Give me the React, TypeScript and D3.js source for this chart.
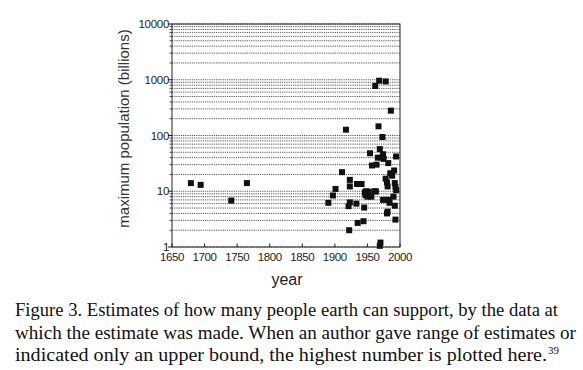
import React from 'react'
import * as d3 from 'd3'

// estimates: year the estimate was made, max population in billions
const years = [
  1679, 1694, 1741, 1765, 1890, 1897, 1901, 1911, 1917, 1921, 1922, 1923, 1923, 1923,
  1933, 1934, 1935, 1941, 1944, 1945, 1946, 1947, 1948, 1950, 1952, 1954, 1956, 1957,
  1961, 1962, 1963, 1964, 1966, 1967, 1968, 1969, 1969, 1970, 1972, 1973, 1974, 1974,
  1975, 1978, 1978, 1980, 1980, 1981, 1981, 1982, 1983, 1984, 1985, 1986, 1988, 1990,
  1991, 1992, 1992, 1993, 1993, 1994, 1994,
]
const maxPop = [
  14, 13, 6.8, 14, 6.2, 8.4, 11, 22, 127, 5.4, 2.0, 16, 12.2, 6.3,
  6.0, 13.5, 2.7, 13.5, 2.9, 5.1, 9.5, 8.5, 10, 8, 9.8, 48, 8, 29,
  10, 773, 9.9, 30, 40, 146, 961, 57, 1.05, 1.2, 40, 94, 46, 7,
  38, 934, 16.8, 14.4, 4.0, 12.2, 4.3, 32, 7, 6.2, 21, 279, 19, 8,
  23.6, 14, 5.5, 3.1, 12, 10.5, 42,
]

const xTicks = [1650, 1700, 1750, 1800, 1850, 1900, 1950, 2000]
const yTicks = [1, 10, 100, 1000, 10000]

const caption = [
  'Figure 3. Estimates of how many people earth can support, by the data at',
  'which the estimate was made. When an author gave range of estimates or',
  'indicated only an upper bound, the highest number is plotted here.',
]

export default function App() {
  const W = 583
  const H = 370
  const x = d3.scaleLinear().domain([1650, 2000]).range([172, 400])
  const y = d3.scaleLog().domain([1, 10000]).range([247, 24])

  const minor: number[] = []
  for (let d = 1; d < 10000; d *= 10) {
    for (let k = 2; k <= 9; k++) minor.push(d * k)
  }
  const [x0, x1] = x.range()
  const [y0, y1] = y.range()
  const sans = 'Liberation Sans, Arial, sans-serif'
  const serif = 'Liberation Serif, Times New Roman, serif'
  const S = 6

  return (
    <svg width={W} height={H} style={{ position: 'absolute', left: 0, top: 0, background: '#fff' }}>
      {/* dotted grid */}
      {[...minor, ...yTicks].map((v, i) => (
        <line key={'g' + i} x1={x0} x2={x1} y1={y(v)} y2={y(v)}
          stroke="#444" strokeWidth={0.9} strokeDasharray="1.2 1" />
      ))}

      {/* frame */}
      <rect x={x0} y={y1} width={x1 - x0} height={y0 - y1} fill="none" stroke="#222" strokeWidth={1} />

      {/* y ticks */}
      {minor.map((v, i) => (
        <line key={'mt' + i} x1={x0 - 2.5} x2={x0} y1={y(v)} y2={y(v)} stroke="#222" strokeWidth={0.8} />
      ))}
      {yTicks.map(v => (
        <g key={'yt' + v}>
          <line x1={x0 - 4} x2={x0} y1={y(v)} y2={y(v)} stroke="#222" strokeWidth={1} />
          <text x={x0 - 3} y={y(v) + 4} textAnchor="end" fontFamily={sans} fontSize={11.5}
            letterSpacing={-0.3} fill="#222">{v}</text>
        </g>
      ))}

      {/* x ticks */}
      {xTicks.map(v => (
        <g key={'xt' + v}>
          <line x1={x(v)} x2={x(v)} y1={y0} y2={y0 - 3.5} stroke="#222" strokeWidth={1} />
          <text x={x(v)} y={y0 + 14} textAnchor="middle" fontFamily={sans} fontSize={11.5}
            letterSpacing={-0.4} fill="#222">{v}</text>
        </g>
      ))}

      {/* points */}
      {years.map((yr, i) => (
        <rect key={'p' + i} x={x(yr) - S / 2} y={y(maxPop[i]) - S / 2} width={S} height={S} fill="#111" />
      ))}

      {/* axis titles */}
      <text x={287} y={285} textAnchor="middle" fontFamily={sans} fontSize={16} fill="#222">year</text>
      <text transform={`translate(129,${(y0 + y1) / 2 - 7}) rotate(-90)`} textAnchor="middle"
        fontFamily={sans} fontSize={15} fill="#333">maximum population (billions)</text>

      {/* caption */}
      <text x={15} y={316} fontFamily={serif} fontSize={18} fill="#111" textLength={543} lengthAdjust="spacingAndGlyphs">{caption[0]}</text>
      <text x={15} y={338.5} fontFamily={serif} fontSize={18} fill="#111" textLength={561} lengthAdjust="spacingAndGlyphs">{caption[1]}</text>
      <text x={15} y={361} fontFamily={serif} fontSize={18} fill="#111" textLength={532} lengthAdjust="spacingAndGlyphs">{caption[2]}</text>
      <text x={548} y={354} fontFamily={serif} fontSize={11} fill="#111">39</text>
    </svg>
  )
}
